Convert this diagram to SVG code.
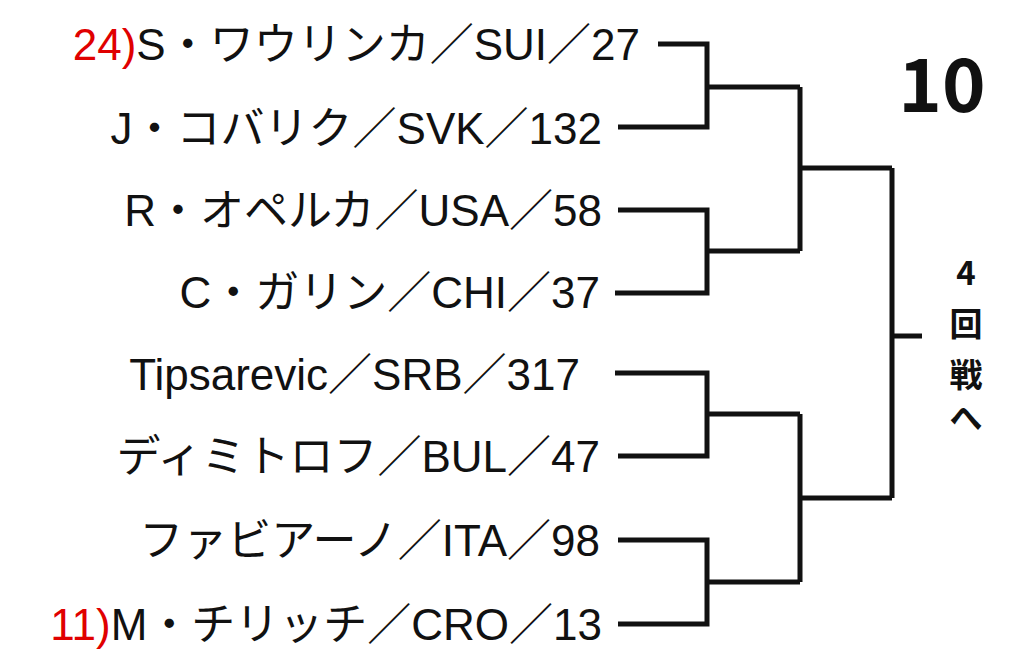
<svg xmlns="http://www.w3.org/2000/svg" width="1024" height="652" viewBox="0 0 1024 652">
<style>
.n{font-family:"Liberation Sans","Noto Sans CJK JP",sans-serif;font-size:44px;fill:#111;text-anchor:end}
.r{fill:#e00000}
.c path{fill:none;stroke:#111;stroke-width:5}
.b{font-family:"Noto Sans CJK JP",sans-serif;font-weight:bold;fill:#111;text-anchor:middle}
</style>
<rect width="1024" height="652" fill="#fff"/>
<g id="p1"><text class="n" x="640" y="60"><tspan class="r">24)</tspan>S・ワウリンカ／SUI／27</text></g>
<g id="p2"><text class="n" x="602" y="144">J・コバリク／SVK／132</text></g>
<g id="p3"><text class="n" x="602" y="226">R・オペルカ／USA／58</text></g>
<g id="p4"><text class="n" x="600" y="308">C・ガリン／CHI／37</text></g>
<g id="p5"><text class="n" x="580" y="390">Tipsarevic／SRB／317</text></g>
<g id="p6"><text class="n" x="600" y="472">ディミトロフ／BUL／47</text></g>
<g id="p7"><text class="n" x="600" y="556">ファビアーノ／ITA／98</text></g>
<g id="p8"><text class="n" x="602" y="640"><tspan class="r">11)</tspan>M・チリッチ／CRO／13</text></g>
<g id="title"><text class="b" x="942" y="112" font-size="74">10</text></g>
<g id="next">
<text class="b" x="966" y="285" font-size="33">4</text>
<text class="b" x="966" y="336" font-size="33">回</text>
<text class="b" x="966" y="387" font-size="33">戦</text>
<text class="b" x="966" y="430" font-size="33">へ</text>
</g>
<g class="c" id="connectors">
<path d="M658 44H707V127H618M707 87H800"/>
<path d="M618 210H707V293H615M707 251H800"/>
<path d="M800 87V251M800 168H892"/>
<path d="M615 373H707V456H618M707 414H800"/>
<path d="M618 540H707V624H618M707 582H800"/>
<path d="M800 414V582M800 498H892"/>
<path d="M892 168V498M892 336H922"/>
</g>
</svg>
